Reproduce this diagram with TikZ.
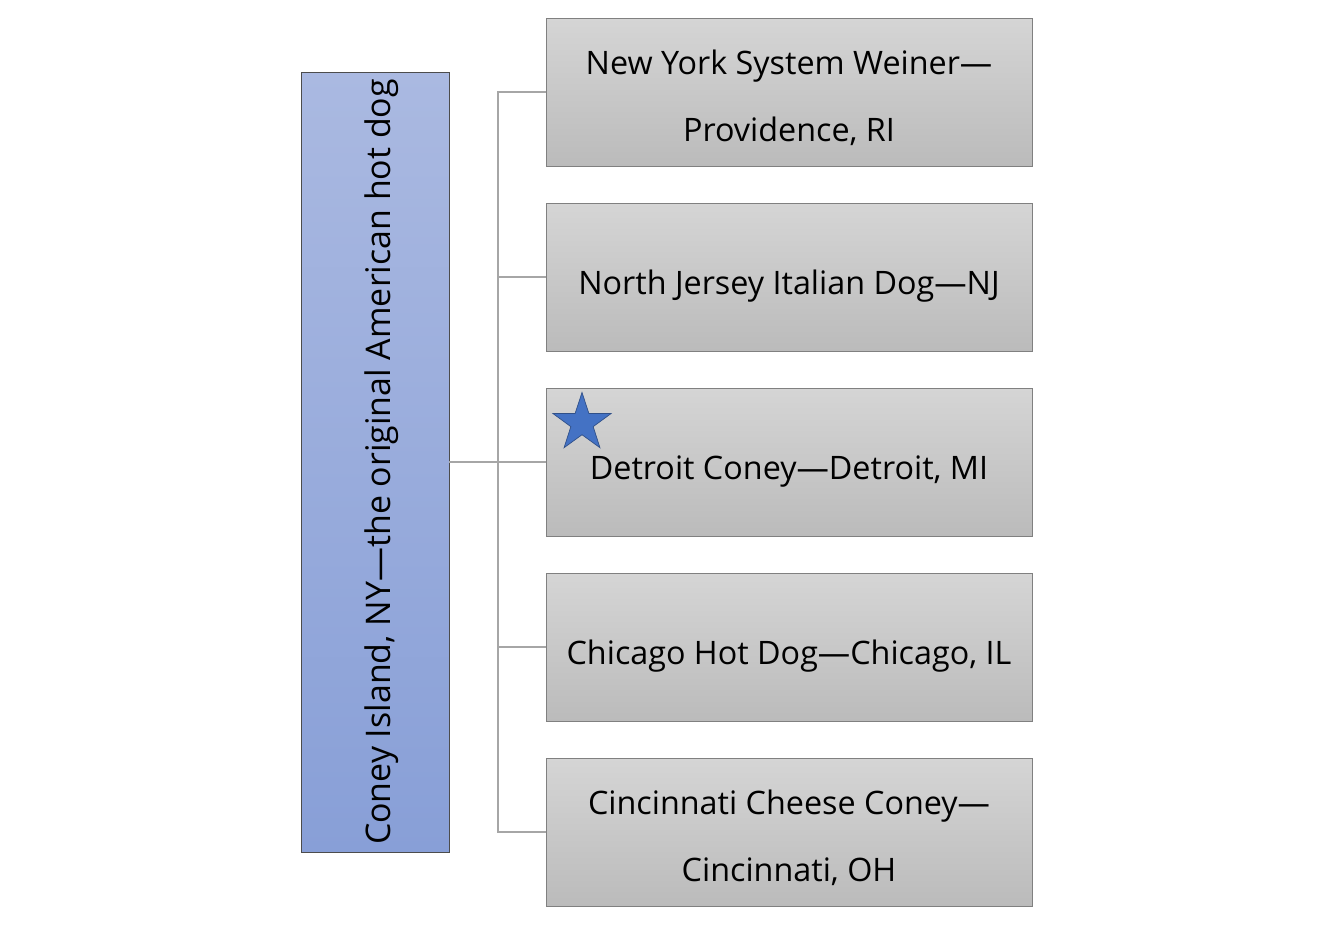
\documentclass[tikz,border=0pt]{standalone}
\usepackage{fontspec}
\setmainfont{Open Sans}
\usepackage{tikz}
\usetikzlibrary{positioning,calc,shapes.geometric}
\usepackage{xcolor}
\definecolor{roottop}{HTML}{AAB9E1}
\definecolor{rootbot}{HTML}{889FD7}
\definecolor{boxtop}{HTML}{D5D5D5}
\definecolor{boxbot}{HTML}{BBBBBB}
\definecolor{starblue}{HTML}{4472C4}

\begin{document}
\begin{tikzpicture}[x=0.02cm,y=-0.02cm,
    rootbox/.style={rectangle,draw=black!70,top color=roottop,bottom color=rootbot,minimum width=2.96cm,minimum height=15.6cm,inner sep=0pt},
    dogbox/.style={rectangle,draw=black!50,top color=boxtop,bottom color=boxbot,minimum width=9.72cm,minimum height=2.96cm,align=center,inner sep=0pt,font=\fontsize{18.4}{38.5}\selectfont},
    oneline/.style={dogbox,text height=24pt},
    twoline/.style={dogbox,text height=59pt},
    conn/.style={draw=black!35,line width=1.5pt}]
\useasboundingbox (0,0) rectangle (1334,940);

% Wurzel links
\node[rootbox] (coney) at (375,462) {};
\node[rotate=90,font=\fontsize{19.3}{23}\selectfont] (coneytext) at ([xshift=0.14cm]coney.center) {Coney Island, NY---the original American hot dog};

% Varianten rechts
\node[twoline] (providence) at (789,92) {New York System Weiner---\\Providence, RI};
\node[oneline] (jersey) at (789,277) {North Jersey Italian Dog---NJ};
\node[oneline] (detroit) at (789,462) {Detroit Coney---Detroit, MI};
\node[oneline] (chicago) at (789,647) {Chicago Hot Dog---Chicago, IL};
\node[twoline] (cincinnati) at (789,832) {Cincinnati Cheese Coney---\\Cincinnati, OH};

\node[star,star points=5,star point ratio=2.6,fill=starblue,draw=starblue!70!black,minimum size=1.22cm,inner sep=0pt] (favstar) at (582,423) {};

% Verbindungen
\coordinate (fork) at (498,462);
\draw[conn] (coney.east) -- (fork);
\foreach \b in {providence,jersey,detroit,chicago,cincinnati}
  \draw[conn] (fork) |- (\b.west);

\end{tikzpicture}
\end{document}
